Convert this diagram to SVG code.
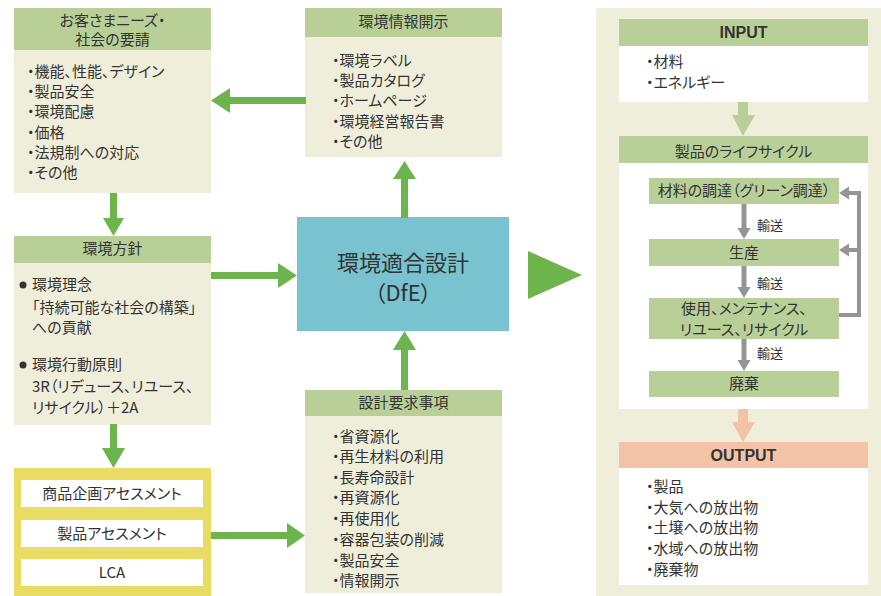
<svg xmlns="http://www.w3.org/2000/svg" width="881" height="596" viewBox="0 0 881 596">
<style>
text{font-family:"Noto Sans CJK JP","Noto Sans",sans-serif;fill:#333;font-feature-settings:"palt";}
.t{font-size:15px;}
.h{font-size:15px;text-anchor:middle;}
.b{font-size:16px;font-weight:bold;text-anchor:middle;font-family:"Liberation Sans","Noto Sans",sans-serif;}
.s{font-size:13px;}
.hd{fill:#b8d097;}
.bd{fill:#efeedb;}
.wh{fill:#ffffff;}
.ga{fill:#6db44c;}
.gr{fill:#939598;}
</style>
<rect x="596" y="8" width="285" height="588" class="bd"/>

<g id="needs">
<rect x="14" y="8" width="197" height="42" class="hd"/>
<rect x="14" y="50" width="197" height="143" class="bd"/>
<text class="h" x="112.5" y="26">お客さまニーズ・</text>
<text class="h" x="112.5" y="45">社会の要請</text>
<text class="t" x="27" y="77">・機能、性能、デザイン</text>
<text class="t" x="27" y="97">・製品安全</text>
<text class="t" x="27" y="117">・環境配慮</text>
<text class="t" x="27" y="138">・価格</text>
<text class="t" x="27" y="158">・法規制への対応</text>
<text class="t" x="27" y="178">・その他</text>
</g>

<g id="disclosure">
<rect x="305" y="8" width="197" height="29" class="hd"/>
<rect x="305" y="37" width="197" height="120" class="bd"/>
<text class="h" x="403.5" y="27">環境情報開示</text>
<text class="t" x="332" y="66">・環境ラベル</text>
<text class="t" x="332" y="86">・製品カタログ</text>
<text class="t" x="332" y="106">・ホームページ</text>
<text class="t" x="332" y="127">・環境経営報告書</text>
<text class="t" x="332" y="147">・その他</text>
</g>

<g id="policy">
<rect x="14" y="236" width="197" height="27" class="hd"/>
<rect x="14" y="263" width="197" height="162" class="bd"/>
<text class="h" x="112.5" y="254">環境方針</text>
<circle cx="23" cy="285" r="3.5" fill="#333"/>
<text class="t" x="32" y="290">環境理念</text>
<text class="t" x="32" y="313">「持続可能な社会の構築」</text>
<text class="t" x="32" y="333">への貢献</text>
<circle cx="23" cy="365" r="3.5" fill="#333"/>
<text class="t" x="32" y="370">環境行動原則</text>
<text class="t" x="32" y="392">3R（リデュース、リユース、</text>
<text class="t" x="32" y="413">リサイクル）＋2A</text>
</g>

<g id="assessment">
<rect x="14" y="468" width="197" height="128" fill="#e8dc64"/>
<rect x="21" y="480" width="182" height="27" class="wh"/>
<rect x="21" y="520" width="182" height="27" class="wh"/>
<rect x="21" y="559" width="182" height="27" class="wh"/>
<text class="h" x="112" y="499">商品企画アセスメント</text>
<text class="h" x="112" y="539">製品アセスメント</text>
<text class="h" x="112" y="578">LCA</text>
</g>

<g id="dfe">
<rect x="297" y="217" width="212" height="114" fill="#79c3d0"/>
<text x="403" y="271" style="font-size:22px;text-anchor:middle">環境適合設計</text>
<text x="403" y="301" style="font-size:22px;text-anchor:middle">（DfE）</text>
</g>

<g id="requirements">
<rect x="305" y="390" width="197" height="26" class="hd"/>
<rect x="305" y="416" width="197" height="177" class="bd"/>
<text class="h" x="403.5" y="408">設計要求事項</text>
<text class="t" x="332" y="442">・省資源化</text>
<text class="t" x="332" y="462">・再生材料の利用</text>
<text class="t" x="332" y="483">・長寿命設計</text>
<text class="t" x="332" y="503">・再資源化</text>
<text class="t" x="332" y="524">・再使用化</text>
<text class="t" x="332" y="545">・容器包装の削減</text>
<text class="t" x="332" y="566">・製品安全</text>
<text class="t" x="332" y="586">・情報開示</text>
</g>

<g id="input">
<rect x="619" y="19" width="249" height="27" class="hd"/>
<rect x="619" y="46" width="249" height="56" class="wh"/>
<text class="b" x="743.5" y="38">INPUT</text>
<text class="t" x="646" y="67">・材料</text>
<text class="t" x="646" y="88">・エネルギー</text>
</g>

<g id="lifecycle">
<rect x="619" y="136" width="249" height="27" class="hd"/>
<rect x="619" y="163" width="249" height="246" class="wh"/>
<text class="h" x="743.5" y="157">製品のライフサイクル</text>
</g>
<g id="procure">
<rect x="649" y="178" width="190" height="26" class="hd"/>
<text class="h" x="744" y="196">材料の調達（グリーン調達）</text>
</g>
<g id="produce">
<rect x="649" y="239" width="190" height="27" class="hd"/>
<text class="h" x="744" y="258">生産</text>
</g>
<g id="use">
<rect x="649" y="298" width="190" height="41" class="hd"/>
<text class="h" x="744" y="314">使用、メンテナンス、</text>
<text class="h" x="744" y="335">リユース、リサイクル</text>
</g>
<g id="dispose">
<rect x="649" y="371" width="190" height="26" class="hd"/>
<text class="h" x="744" y="389">廃棄</text>
</g>

<g id="output">
<rect x="619" y="442" width="249" height="26" fill="#f2c3a6"/>
<rect x="619" y="468" width="249" height="117" class="wh"/>
<text class="b" x="743.5" y="461">OUTPUT</text>
<text class="t" x="646" y="492">・製品</text>
<text class="t" x="646" y="513">・大気への放出物</text>
<text class="t" x="646" y="533">・土壌への放出物</text>
<text class="t" x="646" y="554">・水域への放出物</text>
<text class="t" x="646" y="575">・廃棄物</text>
</g>

<g id="connectors">
<rect x="229" y="97" width="77" height="7" class="ga"/>
<polygon points="211,100.5 230,88 230,113" class="ga"/>
<rect x="401" y="178" width="7" height="40" class="ga"/>
<polygon points="404.5,161 393,179 416,179" class="ga"/>
<rect x="401" y="349" width="7" height="41" class="ga"/>
<polygon points="404.5,331 393,350 416,350" class="ga"/>
<rect x="110" y="193" width="7" height="27" class="ga"/>
<polygon points="113.5,236 103,218 124,218" class="ga"/>
<rect x="211" y="272" width="69" height="7" class="ga"/>
<polygon points="297,275.5 278,263 278,288" class="ga"/>
<rect x="110" y="424" width="7" height="26" class="ga"/>
<polygon points="113.5,468 102,448 125,448" class="ga"/>
<rect x="211" y="532" width="78" height="7" class="ga"/>
<polygon points="305,535.5 287,523 287,548" class="ga"/>
<polygon points="528,251 528,299 582,275" class="ga"/>

<rect x="738" y="102" width="10" height="14" fill="#b8d097"/>
<polygon points="743,136 732,115 755,115" fill="#b8d097"/>
<rect x="738" y="409" width="10" height="14" fill="#f2c3a6"/>
<polygon points="743,442 732,422 755,422" fill="#f2c3a6"/>

<rect x="741.5" y="204" width="5" height="25" class="gr"/>
<polygon points="744,239 737.5,228 750.5,228" class="gr"/>
<rect x="741.5" y="266" width="5" height="22" class="gr"/>
<polygon points="744,298 737.5,287 750.5,287" class="gr"/>
<rect x="741.5" y="339" width="5" height="22" class="gr"/>
<polygon points="744,371 737.5,360 750.5,360" class="gr"/>
<text class="s" x="757" y="230">輸送</text>
<text class="s" x="757" y="288">輸送</text>
<text class="s" x="757" y="358">輸送</text>

<polyline points="839,315 859,315 859,193 847,193" fill="none" stroke="#939598" stroke-width="4"/>
<line x1="859" y1="250" x2="847" y2="250" stroke="#939598" stroke-width="4"/>
<polygon points="839,193 849,186.5 849,199.5" class="gr"/>
<polygon points="839,250 849,243.5 849,256.5" class="gr"/>
</g>
</svg>
